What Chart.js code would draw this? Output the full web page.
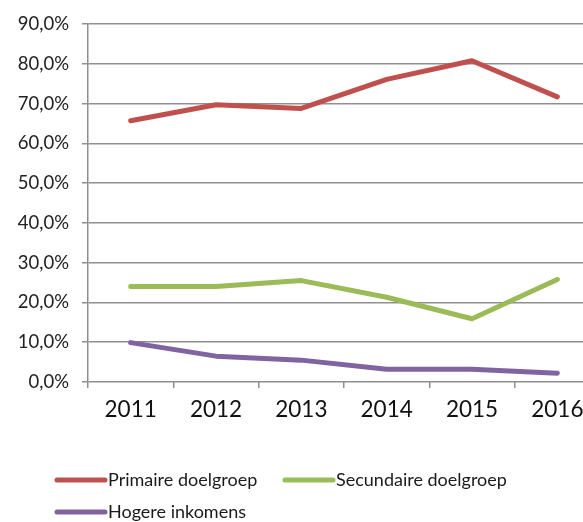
<!DOCTYPE html>
<html>
<head>
<meta charset="utf-8">
<script src="https://cdn.jsdelivr.net/npm/chart.js@4"></script>
<style>
  html, body { margin: 0; padding: 0; background: #fff; overflow: hidden; }
  #wrap { width: 600px; height: 522px; }
</style>
</head>
<body>
<div id="wrap"><canvas id="c" width="600" height="522"></canvas></div>
<script>
// Share per target group, 2011-2016 (percent)
const years = ['2011', '2012', '2013', '2014', '2015', '2016'];
const primaire = [65.7, 69.7, 68.8, 76.1, 80.8, 71.7];
const secundaire = [24.0, 24.0, 25.5, 21.3, 15.9, 25.8];
const hogere = [9.9, 6.5, 5.5, 3.2, 3.2, 2.2];
const seriesNames = ['Primaire doelgroep', 'Secundaire doelgroep', 'Hogere inkomens'];
const seriesColors = ['#C0504D', '#9BBB59', '#8064A2'];
const yTicks = [0, 10, 20, 30, 40, 50, 60, 70, 80, 90];

const FONT = 'Lato, "Open Sans", sans-serif';
const GRID = '#8f8f8f';

// Legend laid out in two rows under the axis
const legendPlugin = {
  id: 'rowLegend',
  afterDraw(chart) {
    const ctx = chart.ctx;
    const slots = [[55, 480], [283, 480], [55, 512]];
    ctx.save();
    ctx.font = '18px ' + FONT;
    ctx.textBaseline = 'middle';
    ctx.textAlign = 'left';
    chart.data.datasets.forEach((ds, i) => {
      const [x, y] = slots[i];
      ctx.strokeStyle = ds.borderColor;
      ctx.lineWidth = 5;
      ctx.lineCap = 'round';
      ctx.beginPath();
      ctx.moveTo(x + 2, y);
      ctx.lineTo(x + 50, y);
      ctx.stroke();
      ctx.fillStyle = '#1a1a1a';
      ctx.fillText(ds.label, x + 53, y);
    });
    ctx.restore();
  }
};

const datasets = [primaire, secundaire, hogere].map((vals, i) => ({
  label: seriesNames[i],
  data: vals,
  borderColor: seriesColors[i],
  backgroundColor: seriesColors[i],
  borderWidth: 5,
  borderCapStyle: 'round',
  borderJoinStyle: 'round',
  pointRadius: 0,
  tension: 0,
  fill: false
}));

new Chart(document.getElementById('c'), {
  type: 'line',
  data: { labels: years, datasets },
  options: {
    responsive: false,
    animation: false,
    layout: { padding: { top: 22, right: 0, left: 0, bottom: 0 } },
    plugins: { legend: { display: false }, tooltip: { enabled: false } },
    scales: {
      x: {
        offset: true,
        grid: { offset: true, drawOnChartArea: false, color: GRID, lineWidth: 1.5, tickLength: 6 },
        border: { display: false },
        ticks: { color: '#111', font: { family: FONT, size: 22.5 }, padding: 8, maxRotation: 0 },
        afterFit(scale) { scale.height = 140; }
      },
      y: {
        min: 0,
        max: 90,
        afterBuildTicks(scale) { scale.ticks = yTicks.map(v => ({ value: v })); },
        grid: { color: GRID, lineWidth: 1.5, tickLength: 6 },
        border: { color: GRID, width: 1.5 },
        ticks: {
          color: '#222',
          font: { family: FONT, size: 18.5 },
          padding: 13,
          callback: v => v.toFixed(1).replace('.', ',') + '%'
        },
        afterFit(scale) { scale.width = 88; }
      }
    }
  },
  plugins: [legendPlugin]
});
</script>
</body>
</html>
